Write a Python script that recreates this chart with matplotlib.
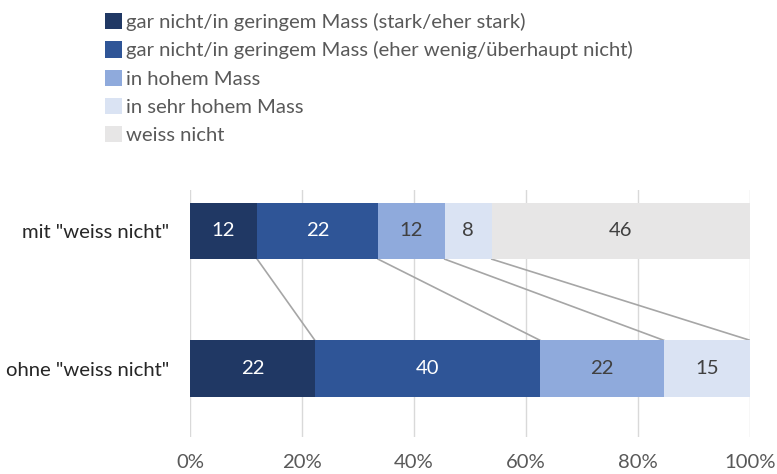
import matplotlib.pyplot as plt
import numpy as np
from matplotlib.patches import Patch

plt.rcParams['font.family'] = ['Lato', 'DejaVu Sans']

# data
categories = ['mit "weiss nicht"', 'ohne "weiss nicht"']
series = ['gar nicht/in geringem Mass (stark/eher stark)',
          'gar nicht/in geringem Mass (eher wenig/überhaupt nicht)',
          'in hohem Mass',
          'in sehr hohem Mass',
          'weiss nicht']
mit_values = [12.0, 21.6, 11.9, 8.4, 46.1]
ohne_values = [22.3, 40.2, 22.1, 15.4]
ticks = [0, 20, 40, 60, 80, 100]

colors = ['#203864', '#2F5597', '#8FAADC', '#DAE3F3', '#E7E6E6']
text_colors = ['white', 'white', '#404040', '#404040', '#404040']
fs = 14.6

fig = plt.figure(figsize=(7.77, 4.74), dpi=100)
ax = fig.add_axes([190 / 777, 1 - 437 / 474, 560 / 777, 247 / 474])

y_pos = [1, 0]
bar_h = 0.41
rows = [mit_values, ohne_values]
for y, vals in zip(y_pos, rows):
    left = 0
    for i, v in enumerate(vals):
        ax.barh(y, v, left=left, height=bar_h, color=colors[i], zorder=3)
        ax.text(left + v / 2, y, f'{v:.0f}', ha='center', va='center',
                color=text_colors[i], fontsize=fs, zorder=4)
        left += v

# connector lines between segment boundaries
top_edges = np.cumsum(mit_values)[:4]
bot_edges = np.cumsum(ohne_values)
for a, b in zip(top_edges, bot_edges):
    ax.plot([a, b], [1 - bar_h / 2, 0 + bar_h / 2], color='#A6A6A6', lw=1.2, zorder=2)

ax.set_xlim(0, 100)
ax.set_ylim(-0.498, 1.298)
ax.set_xticks(ticks)
ax.set_xticklabels([f'{t}%' for t in ticks], fontsize=fs, color='#595959')
ax.set_yticks(y_pos)
ax.set_yticklabels(categories, fontsize=fs, color='#262626')
ax.tick_params(axis='both', length=0)
ax.tick_params(axis='x', pad=12)
ax.tick_params(axis='y', pad=15)
ax.grid(axis='x', color='#D9D9D9', lw=1, zorder=0)
for s in ax.spines.values():
    s.set_visible(False)

handles = [Patch(facecolor=c) for c in colors]
fig.legend(handles, series, loc='upper left', bbox_to_anchor=(97 / 777, 1 - 5 / 474),
           frameon=False, fontsize=fs, labelcolor='#595959',
           handlelength=0.85, handleheight=0.85, handletextpad=0.2, labelspacing=0.5,
           borderaxespad=0)

fig.savefig('out.png', dpi=100)
